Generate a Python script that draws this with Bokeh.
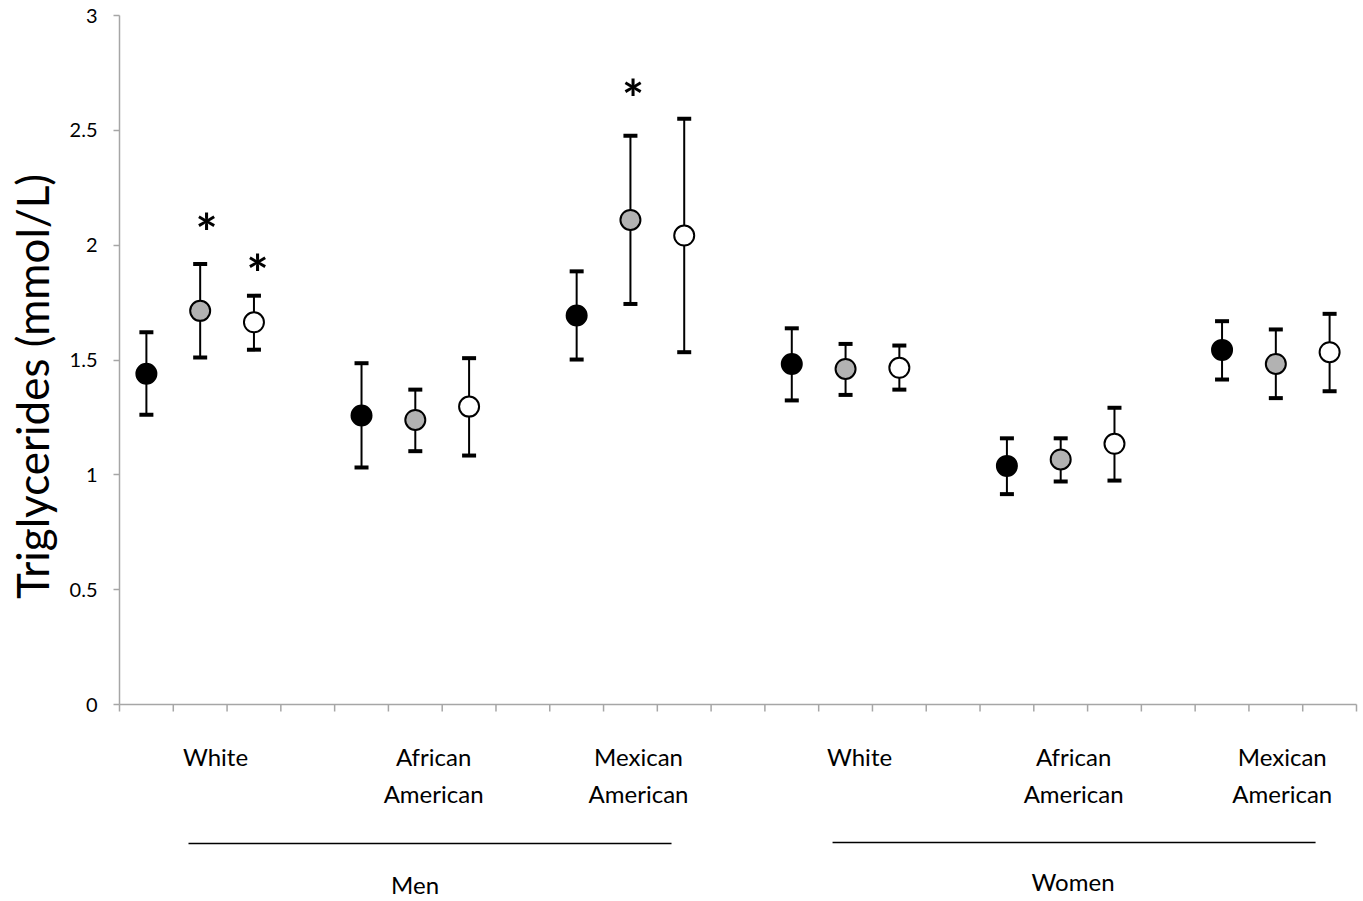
import math
from bokeh.plotting import figure
from bokeh.models import Range1d, FixedTicker, ColumnDataSource, LinearAxis
from bokeh.core.properties import value
from bokeh.embed import file_html
from bokeh.resources import INLINE

# ---- data ----
groups = ["Men White", "Men African American", "Men Mexican American",
          "Women White", "Women African American", "Women Mexican American"]
black_mean = [1.44, 1.258, 1.694, 1.483, 1.039, 1.544]
black_lo = [1.262, 1.032, 1.502, 1.324, 0.916, 1.415]
black_hi = [1.621, 1.486, 1.886, 1.638, 1.159, 1.669]
gray_mean = [1.714, 1.239, 2.110, 1.461, 1.067, 1.483]
gray_lo = [1.511, 1.103, 1.744, 1.348, 0.971, 1.334]
gray_hi = [1.918, 1.371, 2.476, 1.570, 1.159, 1.633]
white_mean = [1.664, 1.297, 2.042, 1.466, 1.135, 1.534]
white_lo = [1.545, 1.084, 1.534, 1.371, 0.975, 1.364]
white_hi = [1.780, 1.508, 2.550, 1.563, 1.292, 1.701]

y_ticks = [0, 0.5, 1, 1.5, 2, 2.5, 3]
y_tick_labels = ["0", "0.5", "1", "1.5", "2", "2.5", "3"]
y_title = "Triglycerides (mmol/L)"
y_title_x = -1.62
y_title_y = 1.385

cat_line1 = ["White", "African", "Mexican", "White", "African", "Mexican"]
cat_line2 = ["", "American", "American", "", "American", "American"]
cat_label_x = [1.785, 5.84, 9.65, 13.76, 17.74, 21.62]
cat_line1_y = -0.226
cat_line2_y = -0.387

sex_labels = ["Men", "Women"]
sex_label_x = [5.495, 17.73]
sex_label_y = [-0.785, -0.772]
sex_line_x0 = [1.283, 13.258]
sex_line_x1 = [10.264, 22.239]
sex_line_y = [-0.605, -0.601]

star_x = [1.618, 2.566, 9.55]
star_y = [2.096, 1.920, 2.681]

n_slots = 23

# ---- layout constants (pixels -> data) ----
W, H = 1363, 901
left_px, right_px, top_px, bottom_px = 119, 7, 15, 197
px_per_x = (W - left_px - right_px) / n_slots
px_per_y = (H - top_px - bottom_px) / 3.0
x_lo = -left_px / px_per_x
x_hi = n_slots + right_px / px_per_x
y_hi = 3 + top_px / px_per_y
y_lo = -bottom_px / px_per_y

# ---- figure ----
p = figure(width=W, height=H, output_backend="svg", toolbar_location=None,
           x_range=Range1d(x_lo, x_hi), y_range=Range1d(y_lo, y_hi),
           x_axis_location=None, y_axis_location=None,
           min_border=0)
p.outline_line_color = None
p.grid.visible = False
p.background_fill_color = "white"
p.border_fill_color = "white"

axis_col = "#a6a6a6"
# y axis, fixed at x = 0
yax = LinearAxis(fixed_location=0, bounds=(0, 3),
                 ticker=FixedTicker(ticks=y_ticks),
                 major_label_overrides={t: l for t, l in zip(y_ticks, y_tick_labels)})
yax.axis_line_color = axis_col
yax.axis_line_width = 1.5
yax.major_tick_line_color = axis_col
yax.major_tick_line_width = 1.5
yax.major_tick_in = 0
yax.major_tick_out = 6
yax.minor_tick_line_color = None
yax.major_label_text_font = "Lato"
yax.major_label_text_font_size = "20px"
yax.major_label_text_color = "black"
yax.major_label_standoff = 16
p.add_layout(yax, "left")

p.text(x=[y_title_x], y=[y_title_y], text=[y_title], angle=math.pi / 2,
       text_align="center", text_baseline="middle", text_font=value("Lato"),
       text_font_size="44px", text_color="black")

# x axis (drawn as line + ticks at y = 0)
tick_len = 7 / px_per_y
xt = list(range(n_slots + 1))
p.segment(x0=[0], y0=[0], x1=[n_slots], y1=[0], line_color=axis_col, line_width=1.5)
p.segment(x0=xt, y0=[0] * len(xt), x1=xt, y1=[-tick_len] * len(xt),
          line_color=axis_col, line_width=1.5)

# ---- series ----
series = [
    (black_mean, black_lo, black_hi, "black", 0),
    (gray_mean, gray_lo, gray_hi, "#b2b2b2", 1),
    (white_mean, white_lo, white_hi, "white", 2),
]
for mean, lo, hi, fill, offset in series:
    xs = [4 * i + offset + 0.5 for i in range(len(groups))]
    src = ColumnDataSource(dict(x=xs, m=mean, lo=lo, hi=hi))
    p.segment(x0="x", y0="lo", x1="x", y1="hi", source=src,
              line_color="black", line_width=2)
    p.scatter(x="x", y="lo", source=src, marker="dash", size=14,
              line_color="black", line_width=4)
    p.scatter(x="x", y="hi", source=src, marker="dash", size=14,
              line_color="black", line_width=4)
    p.scatter(x="x", y="m", source=src, marker="circle", size=20,
              fill_color=fill, line_color="black", line_width=2)

# stars
p.text(x=star_x, y=star_y, text=["*"] * len(star_x), text_align="center",
       text_baseline="middle", text_font=value("Lato"), text_font_size="52px",
       text_font_style="bold", text_color="black", y_offset=9)

# category labels
lab_kw = dict(text_align="center", text_baseline="middle",
              text_font=value("Lato"), text_font_size="24px", text_color="black")
p.text(x=cat_label_x, y=[cat_line1_y] * len(cat_label_x), text=cat_line1, **lab_kw)
x2 = [x for x, t in zip(cat_label_x, cat_line2) if t]
t2 = [t for t in cat_line2 if t]
p.text(x=x2, y=[cat_line2_y] * len(x2), text=t2, **lab_kw)

p.text(x=sex_label_x, y=sex_label_y, text=sex_labels, **lab_kw)
p.segment(x0=sex_line_x0, y0=sex_line_y, x1=sex_line_x1, y1=sex_line_y,
          line_color="black", line_width=1.5)

open("out.html", "w").write(file_html(p, INLINE))
